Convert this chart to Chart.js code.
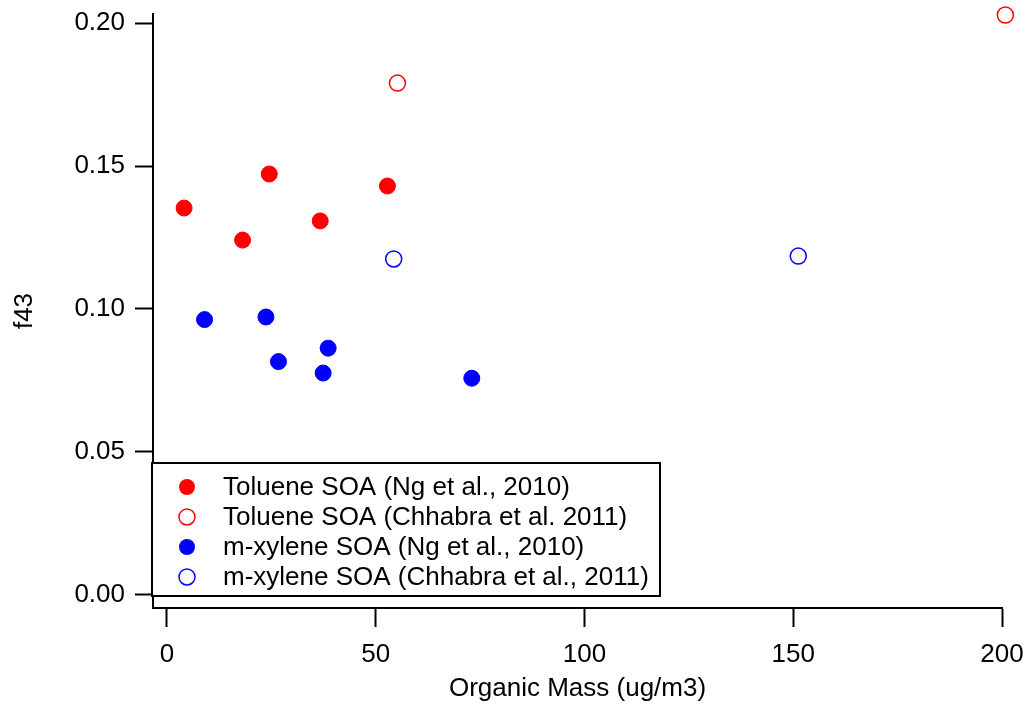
<!DOCTYPE html>
<html>
<head>
<meta charset="utf-8">
<script src="https://cdn.jsdelivr.net/npm/chart.js@4"></script>
<style>
  html, body { margin: 0; padding: 0; background: #fff; }
  #wrap { width: 1028px; height: 706px; position: relative; }
</style>
</head>
<body>
<div id="wrap"><canvas id="f43Chart"></canvas></div>
<script>
// Organic mass (ug/m3) and f43 for each experiment
const tolueneNgMass = [4.1, 24.5, 18.1, 36.7, 52.8];
const tolueneNgF43 = [0.1353, 0.1472, 0.1241, 0.1308, 0.1430];

const tolueneChhabraMass = [55.2, 200.8];
const tolueneChhabraF43 = [0.1790, 0.2028];

const xyleneNgMass = [9.0, 23.7, 26.7, 38.6, 37.4, 73.0];
const xyleneNgF43 = [0.0963, 0.0972, 0.0816, 0.0863, 0.0776, 0.0758];

const xyleneChhabraMass = [54.3, 151.2];
const xyleneChhabraF43 = [0.1175, 0.1185];

const seriesLabels = [
    'Toluene SOA (Ng et al., 2010)',
    'Toluene SOA (Chhabra et al. 2011)',
    'm-xylene SOA (Ng et al., 2010)',
    'm-xylene SOA (Chhabra et al., 2011)'
];

const xTicks = [0, 50, 100, 150, 200];
const yTicks = [0.00, 0.05, 0.10, 0.15, 0.20];

const FONT = 'Liberation Sans, Arial, sans-serif';
const FONT_SIZE = 26;

function toPoints(xs, ys) {
    return xs.map((x, i) => ({ x: x, y: ys[i] }));
}

function filledSet(label, xs, ys, color) {
    return {
        label: label,
        data: toPoints(xs, ys),
        pointStyle: 'circle',
        pointRadius: 8,
        pointBorderWidth: 1,
        pointBackgroundColor: color,
        pointBorderColor: color,
        filled: true,
        color: color
    };
}

function openSet(label, xs, ys, color) {
    return {
        label: label,
        data: toPoints(xs, ys),
        pointStyle: 'circle',
        pointRadius: 8,
        pointBorderWidth: 1.5,
        pointBackgroundColor: 'rgba(255,255,255,0)',
        pointBorderColor: color,
        filled: false,
        color: color
    };
}

// fixed axis thickness; tick labels may hang past the plot edges
function fixSize(prop, size) {
    return s => {
        s[prop] = size;
        s.paddingTop = s.paddingBottom = s.paddingLeft = s.paddingRight = 0;
    };
}

// Boxed legend in the lower left corner of the plot
const boxLegend = {
    id: 'boxLegend',
    afterDraw(chart) {
        const ctx = chart.ctx;
        const left = chart.chartArea.left - 1;
        const bottom = chart.scales.y.getPixelForValue(0) + 1;
        const w = 508, h = 133;
        const top = bottom - h;
        ctx.save();
        ctx.fillStyle = '#fff';
        ctx.fillRect(left, top, w, h);
        ctx.lineWidth = 2;
        ctx.strokeStyle = '#000';
        ctx.strokeRect(left, top, w, h);
        ctx.font = FONT_SIZE + 'px ' + FONT;
        ctx.textBaseline = 'middle';
        ctx.textAlign = 'left';
        chart.data.datasets.forEach((ds, i) => {
            const cy = top + 24 + i * 30;
            const cx = left + 35;
            ctx.beginPath();
            ctx.arc(cx, cy, 8, 0, Math.PI * 2);
            if (ds.filled) {
                ctx.fillStyle = ds.color;
                ctx.fill();
            } else {
                ctx.lineWidth = 1.5;
                ctx.strokeStyle = ds.color;
                ctx.stroke();
            }
            ctx.fillStyle = '#000';
            ctx.fillText(ds.label, left + 71, cy + 1);
        });
        ctx.restore();
    }
};

new Chart(document.getElementById('f43Chart'), {
    type: 'scatter',
    data: {
        datasets: [
            filledSet(seriesLabels[0], tolueneNgMass, tolueneNgF43, '#ff0000'),
            openSet(seriesLabels[1], tolueneChhabraMass, tolueneChhabraF43, '#ff0000'),
            filledSet(seriesLabels[2], xyleneNgMass, xyleneNgF43, '#0000ff'),
            openSet(seriesLabels[3], xyleneChhabraMass, xyleneChhabraF43, '#0000ff')
        ]
    },
    options: {
        responsive: true,
        maintainAspectRatio: false,
        animation: false,
        clip: false,
        layout: { padding: { top: 14, right: 26, left: 0, bottom: 0 } },
        plugins: {
            legend: { display: false },
            tooltip: { enabled: false }
        },
        scales: {
            x: {
                type: 'linear',
                min: -3.35,
                max: 200,
                afterBuildTicks: s => { s.ticks = xTicks.map(v => ({ value: v })); },
                afterFit: fixSize('height', 98),
                border: { display: true, color: '#000', width: 2 },
                grid: {
                    drawOnChartArea: false,
                    drawTicks: true,
                    tickLength: 19,
                    tickWidth: 2,
                    tickColor: '#000'
                },
                ticks: {
                    autoSkip: false,
                    maxRotation: 0,
                    padding: 12,
                    color: '#000',
                    font: { family: FONT, size: FONT_SIZE },
                    callback: v => String(v)
                },
                title: {
                    display: true,
                    text: 'Organic Mass (ug/m3)',
                    color: '#000',
                    font: { family: FONT, size: FONT_SIZE },
                    padding: { top: 0, bottom: 2 }
                }
            },
            y: {
                type: 'linear',
                min: -0.00455,
                max: 0.20315,
                afterBuildTicks: s => { s.ticks = yTicks.map(v => ({ value: v })); },
                afterFit: fixSize('width', 153),
                border: { display: true, color: '#000', width: 2 },
                grid: {
                    drawOnChartArea: false,
                    drawTicks: true,
                    tickLength: 18,
                    tickWidth: 2,
                    tickColor: '#000'
                },
                ticks: {
                    autoSkip: false,
                    padding: 10,
                    color: '#000',
                    font: { family: FONT, size: FONT_SIZE },
                    callback: v => v.toFixed(2)
                },
                title: {
                    display: true,
                    text: 'f43',
                    color: '#000',
                    font: { family: FONT, size: FONT_SIZE },
                    padding: { top: 9, bottom: 0 }
                }
            }
        }
    },
    plugins: [boxLegend]
});
</script>
</body>
</html>
